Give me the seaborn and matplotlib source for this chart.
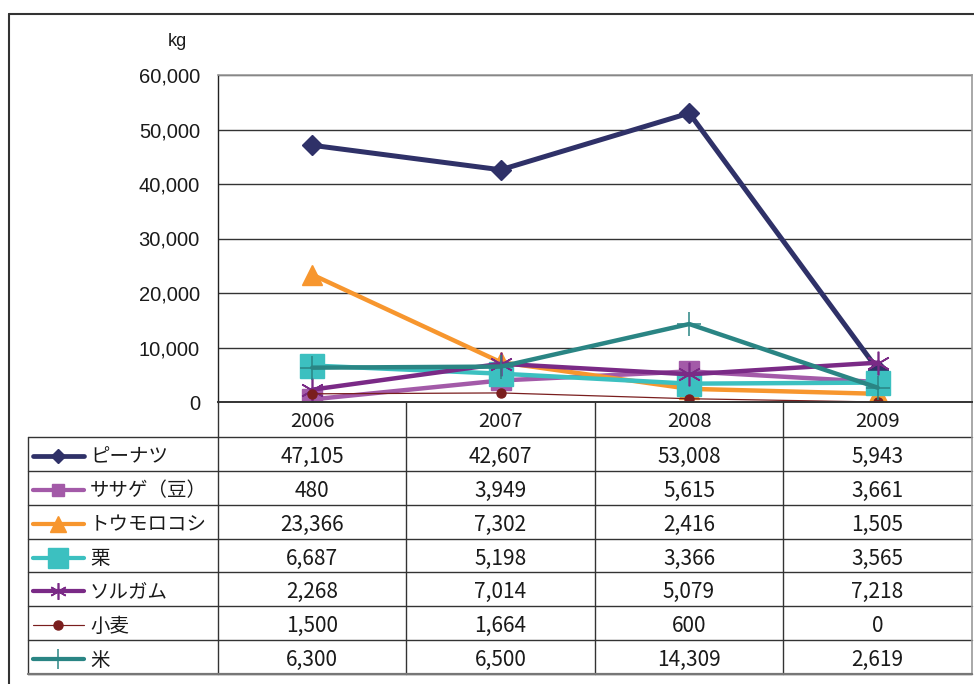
import matplotlib
matplotlib.use("Agg")
import matplotlib.pyplot as plt
import seaborn as sns
import pandas as pd

# --- data -------------------------------------------------------------
years = ["2006", "2007", "2008", "2009"]
crops = ["ピーナツ", "ササゲ（豆）", "トウモロコシ", "栗", "ソルガム", "小麦", "米"]
peanut = [47105, 42607, 53008, 5943]
cowpea = [480, 3949, 5615, 3661]
maize = [23366, 7302, 2416, 1505]
millet = [6687, 5198, 3366, 3565]
sorghum = [2268, 7014, 5079, 7218]
wheat = [1500, 1664, 600, 0]
rice = [6300, 6500, 14309, 2619]
series_values = [peanut, cowpea, maize, millet, sorghum, wheat, rice]
y_ticks = [0, 10000, 20000, 30000, 40000, 50000, 60000]
unit_label = "kg"

# --- styles -----------------------------------------------------------
styles = [
    dict(color="#2F3168", marker="D", ms=10.5, lw=3.6, mew=1, lms=7.5),
    dict(color="#A35AA8", marker="s", ms=14, lw=3.2, mew=1, lms=9),
    dict(color="#F7962E", marker="^", ms=15, lw=3.2, mew=1, lms=11),
    dict(color="#3CC0C0", marker="s", ms=17.5, lw=3.2, mew=1, lms=14),
    dict(color="#7A2A86", marker=(6, 2, 0), ms=17, lw=3.2, mew=1.2, lms=12),
    dict(color="#7A1E1E", marker="o", ms=6.5, lw=0.9, mew=1, lms=6.5),
    dict(color="#2A8584", marker="+", ms=17, lw=3.2, mew=1.1, lms=14),
]

long = pd.DataFrame(
    [(c, i, v) for c, vals in zip(crops, series_values) for i, v in enumerate(vals)],
    columns=["crop", "pos", "value"],
)

sns.set_style("white")
plt.rcParams["font.family"] = ["Noto Sans CJK JP", "DejaVu Sans"]

W, H = 974, 684
fig = plt.figure(figsize=(W / 100, H / 100), dpi=100)
text_c = "#1a1a1a"

# plot area in pixel coordinates
left, right, top, bottom = 218, 972, 75, 402
ax = fig.add_axes([left / W, 1 - bottom / H, (right - left) / W, (bottom - top) / H])

for crop, st in zip(crops, styles):
    sub = long[long["crop"] == crop]
    sns.lineplot(
        data=sub, x="pos", y="value", ax=ax, color=st["color"], lw=st["lw"],
        marker=st["marker"], markersize=st["ms"], markeredgewidth=st["mew"],
        markeredgecolor=st["color"], markerfacecolor=st["color"],
        legend=False, sort=False,
    )

ax.set_xlim(-0.5, len(years) - 0.5)
ax.set_ylim(y_ticks[0], y_ticks[-1])
ax.set_yticks(y_ticks)
ax.set_yticklabels([f"{t:,}" for t in y_ticks], fontsize=14.5,
                   family=["Liberation Sans", "DejaVu Sans"], color=text_c)
ax.tick_params(axis="y", length=0, pad=13)
ax.set_xticks([])
ax.set_xlabel("")
ax.set_ylabel("")
ax.grid(axis="y", color="#333333", lw=1)
ax.set_axisbelow(True)
for side in ["top", "right"]:
    ax.spines[side].set_color("#999999")
    ax.spines[side].set_linewidth(1.2)
ax.spines["left"].set_color("#222222")
ax.spines["bottom"].set_color("#333333")
ax.spines["left"].set_linewidth(1)
ax.spines["bottom"].set_linewidth(1.4)

# --- overlay for frame and data table -------------------------------
ov = fig.add_axes([0, 0, 1, 1], zorder=-1)
ov.set_xlim(0, W)
ov.set_ylim(H, 0)
ov.axis("off")

ov.text(177, 42, unit_label, fontsize=13, ha="center", va="center",
        family=["Liberation Sans", "DejaVu Sans"], color=text_c)

# outer frame
ov.plot([9, 9], [13.5, H], color="#333333", lw=1.5)
ov.plot([9, W], [13.5, 13.5], color="#333333", lw=1.5)

col_edges = [28, 218, 406, 595, 783, 972]
header_top, header_bot = 402, 437
row_h = (674 - header_bot) / len(crops)
row_edges = [header_bot + i * row_h for i in range(len(crops) + 1)]
line_c = "#333333"

for y in row_edges:
    ov.plot([col_edges[0], col_edges[-1]], [y, y], color=line_c, lw=1)
ov.plot([col_edges[0], col_edges[0]], [header_bot, row_edges[-1]], color=line_c, lw=1)
for x in col_edges[1:-1]:
    ov.plot([x, x], [header_top, row_edges[-1]], color=line_c, lw=1)
ov.plot([col_edges[-1], col_edges[-1]], [header_top, row_edges[-1]], color="#999999", lw=1.2)
ov.plot([col_edges[0], col_edges[-1]], [row_edges[-1], row_edges[-1]], color="#777777", lw=1.6)

col_centers = [(col_edges[i] + col_edges[i + 1]) / 2 for i in range(1, len(col_edges) - 1)]
for cx, yr in zip(col_centers, years):
    ov.text(cx, (header_top + header_bot) / 2 + 2, yr, fontsize=14.5, ha="center",
            va="center", color=text_c)

for r, (crop, vals, st) in enumerate(zip(crops, series_values, styles)):
    cy = (row_edges[r] + row_edges[r + 1]) / 2 + 2
    # legend glyph
    ov.plot([33, 84], [cy, cy], color=st["color"], lw=st["lw"] * 0.95,
            solid_capstyle="round")
    ov.plot([58], [cy], color=st["color"], marker=st["marker"], ms=st["lms"],
            mew=st["mew"], mfc=st["color"], mec=st["color"])
    ov.text(90, cy + 1, crop, fontsize=14, ha="left", va="center", color=text_c)
    for cx, v in zip(col_centers, vals):
        ov.text(cx, cy + 1, f"{v:,}", fontsize=15, ha="center", va="center",
                color=text_c)

fig.savefig("out.png", dpi=100)
